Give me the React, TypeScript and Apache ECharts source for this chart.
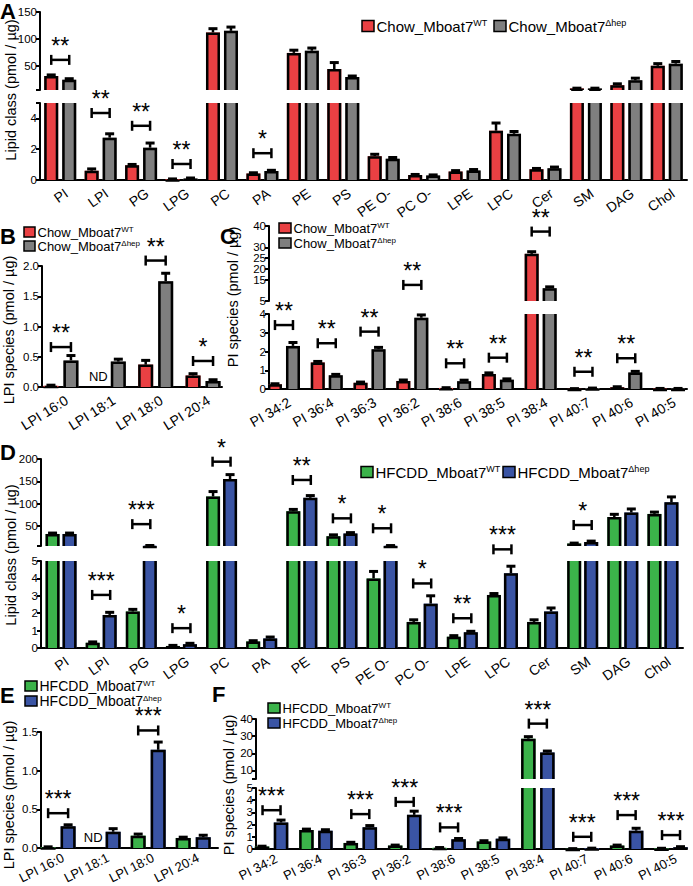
import React, { useEffect, useRef } from 'react';
import * as echarts from 'echarts';

const FONT = '"Liberation Sans", Arial, Helvetica, sans-serif';
const RED = '#ea4043';
const GREY = '#7f7f7f';
const GREEN = '#3bb34a';
const BLUE = '#3a54a4';

// ---------- categories ----------
const classCats = ['PI', 'LPI', 'PG', 'LPG', 'PC', 'PA', 'PE', 'PS', 'PE O-', 'PC O-', 'LPE', 'LPC', 'Cer', 'SM', 'DAG', 'Chol'];
const lpiCats = ['LPI 16:0', 'LPI 18:1', 'LPI 18:0', 'LPI 20:4'];
const piCats = ['PI 34:2', 'PI 36:4', 'PI 36:3', 'PI 36:2', 'PI 38:6', 'PI 38:5', 'PI 38:4', 'PI 40:7', 'PI 40:6', 'PI 40:5'];

// ---------- Panel A : chow lipid classes ----------
const chowClassWT = [31, 0.6, 0.95, 0.05, 112, 0.42, 74, 44, 1.55, 0.32, 0.55, 3.2, 0.7, 8, 14, 50];
const chowClassWTErr = [2, 0.12, 0.06, 0.02, 7, 0.05, 5, 12, 0.12, 0.04, 0.06, 0.5, 0.05, 0.4, 2.5, 4];
const chowClassHep = [24, 2.75, 2.1, 0.1, 115, 0.58, 78, 29, 1.38, 0.3, 0.62, 3.0, 0.76, 8, 23, 54];
const chowClassHepErr = [2, 0.25, 0.3, 0.03, 7, 0.05, 5, 2, 0.08, 0.03, 0.06, 0.15, 0.08, 0.4, 4, 4];
// [category index, bracket value, number of stars]
const sigAUpper = [[0, 61, 2]];
const sigALower = [[1, 4.35, 2], [2, 3.52, 2], [3, 1.04, 2], [5, 1.74, 1]];

// ---------- Panel B : chow LPI species ----------
const chowLpiWT = [0.02, null, 0.37, 0.19];
const chowLpiWTErr = [0.01, null, 0.07, 0.03];
const chowLpiHep = [0.44, 0.42, 1.75, 0.1];
const chowLpiHepErr = [0.08, 0.04, 0.13, 0.02];
const sigB = [[0, 0.66, 2], [2, 2.09, 2], [3, 0.43, 1]];

// ---------- Panel C : chow PI species ----------
const chowPiWT = [0.25, 1.42, 0.33, 0.43, 0.06, 0.8, 27, 0.01, 0.1, 0.02];
const chowPiWTErr = [0.03, 0.05, 0.04, 0.05, 0.01, 0.06, 1.0, 0.01, 0.02, 0.01];
const chowPiHep = [2.3, 0.73, 2.12, 3.8, 0.42, 0.5, 11, 0.04, 0.88, 0.02];
const chowPiHepErr = [0.18, 0.05, 0.1, 0.15, 0.05, 0.04, 0.6, 0.01, 0.06, 0.01];
const sigCUpper = [[3, 12.5, 2], [6, 37.4, 2]];
const sigCLower = [[0, 3.41, 2], [1, 2.44, 2], [2, 3.06, 2], [4, 1.37, 2], [5, 1.67, 2], [7, 0.92, 2], [8, 1.64, 2]];

// ---------- Panel D : HFCDD lipid classes ----------
const hfClassWT = [32, 0.3, 2.1, 0.12, 116, 0.38, 83, 27, 4.0, 1.5, 0.65, 3.05, 1.5, 10.5, 70, 77];
const hfClassWTErr = [2, 0.05, 0.12, 0.03, 11, 0.04, 4, 3, 0.4, 0.12, 0.06, 0.08, 0.12, 1, 6, 4];
const hfClassHep = [32, 1.9, 5.6, 0.22, 155, 0.55, 113, 33, 5.5, 2.55, 0.9, 4.3, 2.1, 14, 80, 103];
const hfClassHepErr = [2, 0.15, 0.5, 0.05, 10, 0.08, 5, 2, 0.5, 0.45, 0.06, 0.4, 0.2, 2, 8, 12];
const sigDUpper = [[2, 54, 3], [4, 194, 1], [6, 153, 2], [7, 67, 1], [8, 44.7, 1], [13, 52, 1]];
const sigDLower = [[1, 3.05, 3], [3, 1.14, 1], [9, 3.71, 1], [10, 1.71, 2], [11, 5.67, 3]];

// ---------- Panel E : HFCDD LPI species ----------
const hfLpiWT = [0.01, null, 0.16, 0.13];
const hfLpiWTErr = [0.005, null, 0.02, 0.01];
const hfLpiHep = [0.28, 0.21, 1.27, 0.14];
const hfLpiHepErr = [0.02, 0.04, 0.1, 0.025];
const sigE = [[0, 0.45, 3], [2, 1.52, 3]];

// ---------- Panel F : HFCDD PI species ----------
const hfPiWT = [0.2, 1.55, 0.5, 0.28, 0.1, 0.62, 28.5, 0.02, 0.28, 0.05];
const hfPiWTErr = [0.03, 0.08, 0.05, 0.04, 0.02, 0.06, 1.2, 0.01, 0.04, 0.01];
const hfPiHep = [2.17, 1.5, 1.78, 2.8, 0.8, 0.85, 20.5, 0.06, 1.5, 0.15];
const hfPiHepErr = [0.2, 0.08, 0.14, 0.3, 0.06, 0.06, 0.8, 0.01, 0.2, 0.04];
const sigFUpper = [[6, 37.3, 3]];
const sigFLower = [[0, 3.18, 3], [2, 2.86, 3], [3, 3.86, 3], [4, 1.77, 3], [7, 1.0, 3], [8, 2.78, 3], [9, 1.14, 3]];

// ---------- axis ticks ----------
const aUpperTicks = [5, 50, 100, 150];
const aUpperLabels = [50, 100, 150];
const aLowerTicks = [0, 2, 4, 5];
const aLowerLabels = [0, 2, 4];
const bTicks = [0, 0.5, 1, 1.5, 2];
const cUpperTicks = [5, 10, 15, 20, 25, 30, 35, 40];
const cLowerTicks = [0, 1, 2, 3, 4];
const dUpperTicks = [5, 50, 100, 150, 200];
const dUpperLabels = [50, 100, 150, 200];
const dLowerTicks = [0, 1, 2, 3, 4, 5];
const eTicks = [0, 0.5, 1, 1.5];
const fUpperTicks = [5, 10, 20, 30, 40];
const fUpperLabels = [10, 20, 30, 40];
const fLowerTicks = [0, 1, 2, 3, 4, 5];

const BW = 2.5;

function barSeries(name: string, gi: number, vals: any[], errs: any[], off: number, W: number, color: string, nd = false) {
  return {
    type: 'custom',
    name,
    xAxisIndex: gi,
    yAxisIndex: gi,
    encode: { x: 0, y: 1 },
    data: vals.map((v, i) => [i, v == null ? '-' : v, errs[i] == null ? 0 : errs[i]]),
    renderItem: (params: any, api: any) => {
      const xv = api.value(0);
      const v = api.value(1);
      const e = api.value(2);
      const cs = params.coordSys;
      const top = cs.y;
      const bot = cs.y + cs.height;
      const cx = api.coord([xv, 0])[0] + off;
      const children: any[] = [];
      if (v == null || isNaN(v)) {
        if (nd) {
          children.push({
            type: 'text', x: cx, y: bot - 11,
            style: { text: 'ND', fontSize: 13, fontFamily: FONT, fill: '#000', align: 'center', verticalAlign: 'middle' },
          });
        }
        return { type: 'group', children };
      }
      const yv = api.coord([xv, v])[1];
      const y0 = api.coord([xv, 0])[1];
      const t = Math.max(yv, top);
      const b = Math.min(y0, bot);
      const hw = W / 2;
      const l = cx - hw + BW / 2;
      const r = cx + hw - BW / 2;
      if (b > t) {
        children.push({ type: 'rect', shape: { x: cx - hw, y: t, width: W, height: b - t }, style: { fill: color } });
        if (yv >= top) {
          children.push({
            type: 'polyline',
            shape: { points: [[l, b], [l, yv + BW / 2], [r, yv + BW / 2], [r, b]] },
            style: { stroke: '#000', lineWidth: BW, fill: null, lineJoin: 'miter' },
          });
        } else {
          children.push({ type: 'line', shape: { x1: l, y1: t, x2: l, y2: b }, style: { stroke: '#000', lineWidth: BW } });
          children.push({ type: 'line', shape: { x1: r, y1: t, x2: r, y2: b }, style: { stroke: '#000', lineWidth: BW } });
        }
      }
      if (e > 0) {
        const ye = api.coord([xv, v + e])[1];
        const s1 = Math.max(ye, top);
        const s2 = Math.min(yv, bot);
        if (s2 > s1) {
          children.push({ type: 'line', shape: { x1: cx, y1: s1, x2: cx, y2: s2 }, style: { stroke: '#000', lineWidth: 2.5 } });
        }
        if (ye >= top - 0.5 && ye <= bot) {
          children.push({ type: 'line', shape: { x1: cx - 4.5, y1: ye, x2: cx + 4.5, y2: ye }, style: { stroke: '#000', lineWidth: 3 } });
        }
      }
      return { type: 'group', children };
    },
  };
}

function sigSeries(gi: number, items: number[][], d: number) {
  return {
    type: 'custom',
    xAxisIndex: gi,
    yAxisIndex: gi,
    encode: { x: 0, y: 1 },
    data: items,
    renderItem: (params: any, api: any) => {
      const xv = api.value(0);
      const yv = api.value(1);
      const n = api.value(2);
      const p = api.coord([xv, yv]);
      const cx = p[0];
      const cy = p[1];
      const ls = { stroke: '#000', lineWidth: 2.5 };
      return {
        type: 'group',
        children: [
          { type: 'line', shape: { x1: cx - d, y1: cy, x2: cx + d, y2: cy }, style: ls },
          { type: 'line', shape: { x1: cx - d, y1: cy - 5, x2: cx - d, y2: cy + 5 }, style: ls },
          { type: 'line', shape: { x1: cx + d, y1: cy - 5, x2: cx + d, y2: cy + 5 }, style: ls },
          {
            type: 'text', x: cx, y: cy - 14,
            style: { text: '*'.repeat(n), fontSize: 23, fontFamily: FONT, fill: '#000', align: 'center', verticalAlign: 'middle' },
          },
        ],
      };
    },
  };
}

// rotated category labels under an x axis, drawn from the category list
function catLabelSeries(gi: number, cats: string[], rotDeg: number, fs: number, gap: number) {
  return {
    type: 'custom',
    xAxisIndex: gi,
    yAxisIndex: gi,
    encode: { x: 0, y: 1 },
    data: cats.map((_, i) => [i, 0]),
    renderItem: (params: any, api: any) => {
      const i = api.value(0);
      const cs = params.coordSys;
      const x = api.coord([i, 0])[0];
      return {
        type: 'group',
        x: x + 2,
        y: cs.y + cs.height + gap,
        rotation: (rotDeg * Math.PI) / 180,
        children: [
          {
            type: 'text',
            style: { text: cats[i], fontSize: fs, fontFamily: FONT, fill: '#000', align: 'right', verticalAlign: 'top' },
          },
        ],
      };
    },
  };
}

function xAx(gi: number, min: number, max: number, show: boolean) {
  return {
    type: 'value',
    gridIndex: gi,
    min,
    max,
    axisLine: { show, onZero: false, lineStyle: { color: '#000', width: 2 } },
    axisTick: { show: false },
    splitLine: { show: false },
    axisLabel: { show: false },
  };
}

function yAx(gi: number, min: number, max: number, ticks: number[], labels: number[], dec = 0) {
  return {
    type: 'value',
    gridIndex: gi,
    min,
    max,
    axisLine: { show: true, onZero: false, lineStyle: { color: '#000', width: 2 } },
    axisTick: { show: true, customValues: ticks, length: 4, lineStyle: { color: '#000', width: 2 } },
    splitLine: { show: false },
    axisLabel: {
      customValues: labels,
      formatter: (v: number) => v.toFixed(dec),
      fontSize: 11.5,
      fontFamily: FONT,
      color: '#000',
      margin: 3,
      showMinLabel: true,
      showMaxLabel: true,
    },
  };
}

function legendItem(x: number, y: number, color: string, label: string, sup: string, fs: number, sw: number, sh: number) {
  return [
    { type: 'rect', shape: { x, y: y - sh / 2, width: sw, height: sh }, style: { fill: color, stroke: '#000', lineWidth: 1.5 } },
    {
      type: 'text', x: x + sw + 2.5, y,
      style: {
        text: `{a|${label}}{s|${sup}}`,
        verticalAlign: 'middle',
        rich: {
          a: { fontSize: fs, fontFamily: FONT, fill: '#000', lineHeight: fs },
          s: { fontSize: Math.round(fs * 0.6), fontFamily: FONT, fill: '#000', verticalAlign: 'top', lineHeight: Math.round(fs * 0.6) },
        },
      },
    },
  ];
}

function yTitle(x: number, y: number, text: string) {
  return {
    type: 'text', x, y, rotation: Math.PI / 2,
    style: { text, fontSize: 14.5, fontFamily: FONT, fill: '#000', align: 'center', verticalAlign: 'middle' },
  };
}

function letter(x: number, y: number, text: string) {
  return { type: 'text', x, y, style: { text, fontSize: 22, fontWeight: 'bold', fontFamily: FONT, fill: '#000' } };
}

function buildOption() {
  const grids = [
    { left: 40, top: 12, width: 647, height: 78 },
    { left: 40, top: 103, width: 647, height: 77 },
    { left: 42, top: 266, width: 180, height: 121 },
    { left: 269, top: 226, width: 418, height: 75 },
    { left: 269, top: 314, width: 418, height: 75 },
    { left: 41, top: 459, width: 642, height: 87 },
    { left: 41, top: 561, width: 642, height: 87 },
    { left: 41, top: 732, width: 177, height: 116 },
    { left: 256, top: 719, width: 431, height: 60 },
    { left: 256, top: 788, width: 431, height: 61 },
  ].map((g) => ({ ...g, containLabel: false, outerBoundsMode: 'none' }));

  const xAxis = [
    xAx(0, -0.5, 15.5, false),
    xAx(1, -0.5, 15.5, true),
    xAx(2, -0.4, 3.4, true),
    xAx(3, -0.35, 9.42, false),
    xAx(4, -0.35, 9.42, true),
    xAx(5, -0.5, 15.5, false),
    xAx(6, -0.5, 15.5, true),
    xAx(7, -0.38, 3.55, true),
    xAx(8, -0.35, 9.36, false),
    xAx(9, -0.35, 9.36, true),
  ];

  const yAxis = [
    yAx(0, 5, 150, aUpperTicks, aUpperLabels),
    yAx(1, 0, 5, aLowerTicks, aLowerLabels),
    yAx(2, 0, 2, bTicks, bTicks, 1),
    yAx(3, 5, 40, cUpperTicks, cUpperTicks),
    yAx(4, 0, 4, cLowerTicks, cLowerTicks),
    yAx(5, 5, 200, dUpperTicks, dUpperLabels),
    yAx(6, 0, 5, dLowerTicks, dLowerTicks),
    yAx(7, 0, 1.5, eTicks, eTicks, 1),
    yAx(8, 5, 40, fUpperTicks, fUpperLabels),
    yAx(9, 0, 5, fLowerTicks, fLowerTicks),
  ];

  const series: any[] = [];
  // A
  [0, 1].forEach((g) => {
    series.push(barSeries('Chow_Mboat7 WT', g, chowClassWT, chowClassWTErr, -9, 14, RED));
    series.push(barSeries('Chow_Mboat7 Δhep', g, chowClassHep, chowClassHepErr, 9, 14, GREY));
  });
  series.push(sigSeries(0, sigAUpper, 9), sigSeries(1, sigALower, 9));
  series.push(catLabelSeries(1, classCats, 35, 14, 6));
  // B
  series.push(barSeries('Chow_Mboat7 WT', 2, chowLpiWT, chowLpiWTErr, -10, 15, RED, true));
  series.push(barSeries('Chow_Mboat7 Δhep', 2, chowLpiHep, chowLpiHepErr, 10, 15, GREY));
  series.push(sigSeries(2, sigB, 10));
  series.push(catLabelSeries(2, lpiCats, 32, 14, 6));
  // C
  [3, 4].forEach((g) => {
    series.push(barSeries('Chow_Mboat7 WT', g, chowPiWT, chowPiWTErr, -9, 14, RED));
    series.push(barSeries('Chow_Mboat7 Δhep', g, chowPiHep, chowPiHepErr, 9, 14, GREY));
  });
  series.push(sigSeries(3, sigCUpper, 9), sigSeries(4, sigCLower, 9));
  series.push(catLabelSeries(4, piCats, 30, 14, 6));
  // D
  [5, 6].forEach((g) => {
    series.push(barSeries('HFCDD_Mboat7 WT', g, hfClassWT, hfClassWTErr, -8.5, 14, GREEN));
    series.push(barSeries('HFCDD_Mboat7 Δhep', g, hfClassHep, hfClassHepErr, 8.5, 14, BLUE));
  });
  series.push(sigSeries(5, sigDUpper, 9), sigSeries(6, sigDLower, 9));
  series.push(catLabelSeries(6, classCats, 35, 14, 6));
  // E
  series.push(barSeries('HFCDD_Mboat7 WT', 7, hfLpiWT, hfLpiWTErr, -10, 15, GREEN, true));
  series.push(barSeries('HFCDD_Mboat7 Δhep', 7, hfLpiHep, hfLpiHepErr, 10, 15, BLUE));
  series.push(sigSeries(7, sigE, 10));
  series.push(catLabelSeries(7, lpiCats, 27, 13, 3));
  // F
  [8, 9].forEach((g) => {
    series.push(barSeries('HFCDD_Mboat7 WT', g, hfPiWT, hfPiWTErr, -9.5, 14.5, GREEN));
    series.push(barSeries('HFCDD_Mboat7 Δhep', g, hfPiHep, hfPiHepErr, 9.5, 14.5, BLUE));
  });
  series.push(sigSeries(8, sigFUpper, 9), sigSeries(9, sigFLower, 9));
  series.push(catLabelSeries(9, piCats, 27, 13, 3));

  const graphic: any[] = [
    letter(0, 0, 'A'),
    letter(0, 225, 'B'),
    letter(220, 225, 'C'),
    letter(0, 441, 'D'),
    letter(0, 684, 'E'),
    letter(212, 683, 'F'),
    yTitle(11, 90, 'Lipid class (pmol / µg)'),
    yTitle(9, 330, 'LPI species (pmol / µg)'),
    yTitle(233, 297, 'PI species (pmol / µg)'),
    yTitle(11, 555, 'Lipid class (pmol / µg)'),
    yTitle(9, 795, 'LPI species (pmol / µg)'),
    yTitle(229, 785, 'PI species (pmol / µg)'),
    ...legendItem(362, 26, RED, 'Chow_Mboat7', 'WT', 15, 12, 11),
    ...legendItem(494, 26, GREY, 'Chow_Mboat7', 'Δhep', 15, 12, 11),
    ...legendItem(24, 232, RED, 'Chow_Mboat7', 'WT', 13, 11, 10),
    ...legendItem(24, 246, GREY, 'Chow_Mboat7', 'Δhep', 13, 11, 10),
    ...legendItem(279, 228, RED, 'Chow_Mboat7', 'WT', 13, 12, 10),
    ...legendItem(279, 243, GREY, 'Chow_Mboat7', 'Δhep', 13, 12, 10),
    ...legendItem(361, 472, GREEN, 'HFCDD_Mboat7', 'WT', 15, 12, 11),
    ...legendItem(503, 472, BLUE, 'HFCDD_Mboat7', 'Δhep', 15, 12, 11),
    ...legendItem(25, 686, GREEN, 'HFCDD_Mboat7', 'WT', 14, 12, 10),
    ...legendItem(25, 701, BLUE, 'HFCDD_Mboat7', 'Δhep', 14, 12, 10),
    ...legendItem(268, 708, GREEN, 'HFCDD_Mboat7', 'WT', 13, 12, 10),
    ...legendItem(268, 723, BLUE, 'HFCDD_Mboat7', 'Δhep', 13, 12, 10),
  ];

  return {
    animation: false,
    backgroundColor: '#fff',
    grid: grids,
    xAxis,
    yAxis,
    series,
    graphic,
  };
}

export default function App() {
  const ref = useRef<HTMLDivElement>(null);
  useEffect(() => {
    document.body.style.margin = '0';
    const chart = echarts.init(ref.current as HTMLDivElement, null, { renderer: 'svg' });
    chart.setOption(buildOption() as any);
    return () => {
      chart.dispose();
    };
  }, []);
  return <div ref={ref} style={{ position: 'absolute', left: 0, top: 0, width: 693, height: 886 }} />;
}
